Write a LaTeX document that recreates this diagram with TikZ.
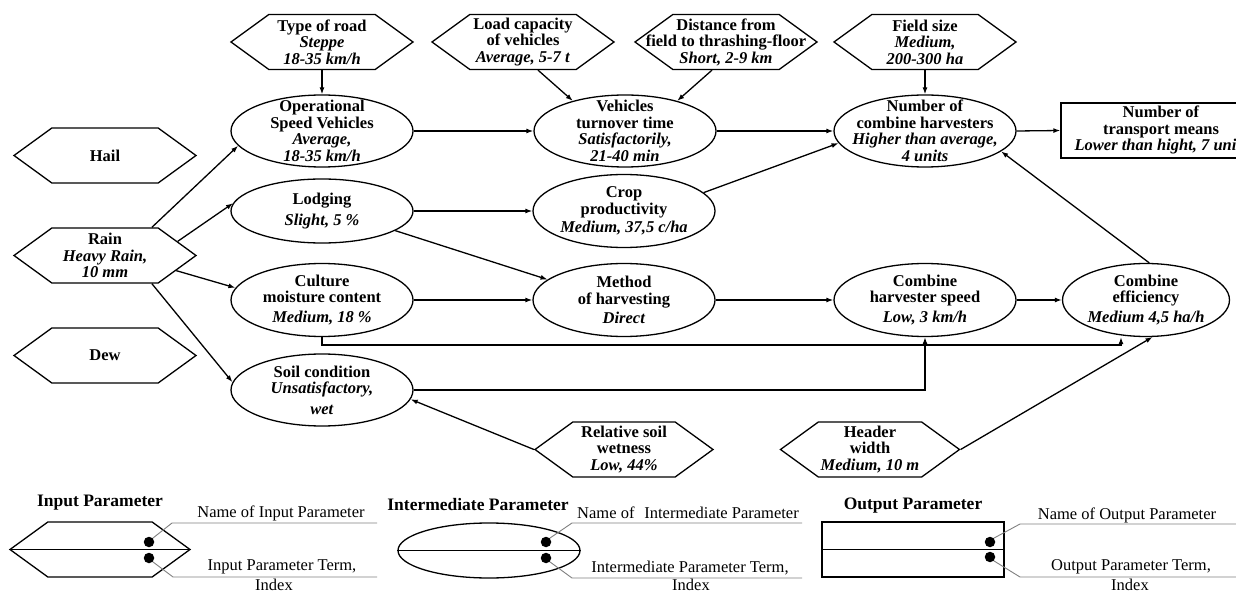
\documentclass[tikz,border=0pt]{standalone}
\usepackage{fontspec}
\setmainfont{Liberation Serif}
\usetikzlibrary{shapes.geometric,shapes.symbols,arrows.meta,calc}
\newcommand{\paramname}[1]{\textbf{#1}}
\newcommand{\paramval}[1]{\textbf{\textit{#1}}}
\tikzset{
  hexnode/.style={draw, line width=1.3pt, signal, signal to=east and west, signal pointer angle=72, minimum width=182pt, minimum height=55pt, inner sep=0pt},
  ellnode/.style={draw, line width=1.3pt, ellipse, minimum width=182pt, minimum height=72pt, inner sep=0pt},
  boxnode/.style={draw, line width=1.3pt, rectangle, minimum width=184pt, minimum height=55pt, inner sep=0pt},
  txt/.style={align=center, inner sep=0pt, font=\fontsize{16.5}{16.5}\selectfont},
  arr/.style={line width=1.3pt, -{Latex[length=7pt,width=5pt]}},
  lead/.style={line width=0.9pt, draw=black!50},
  dotnode/.style={circle, fill=black, minimum size=10.5pt, inner sep=0pt},
  lgtxt/.style={inner sep=0pt, font=\fontsize{16.5}{15}\selectfont},
  lgtitle/.style={inner sep=0pt, font=\fontsize{17.5}{15}\selectfont\bfseries},
  midline/.style={line width=1.3pt},
}
\begin{document}
\begin{tikzpicture}[x=1pt,y=-1pt]
\fill[white] (0,0) rectangle (1236,593);
\useasboundingbox (0,0) rectangle (1236,593);

% ---- input hexagons (top)
\node[hexnode] (road) at (322,42) {};
\node[txt] (roadT) at (road) {\paramname{Type of road}\\\paramval{Steppe}\\\paramval{18-35 km/h}};
\node[hexnode] (load) at (523,42) {};
\node[txt] (loadT) at (load) {\paramname{Load capacity}\\\paramname{of vehicles}\\\paramval{Average, 5-7 t}};
\node[hexnode] (dist) at (726,42) {};
\node[txt] (distT) at (dist) {\paramname{Distance from}\\\paramname{field to thrashing-floor}\\\paramval{Short, 2-9 km}};
\node[hexnode] (field) at (925,42) {};
\node[txt] (fieldT) at (field) {\paramname{Field size}\\\paramval{Medium,}\\\paramval{200-300 ha}};

% ---- input hexagons (left)
\node[hexnode] (hail) at (105,155.5) {};
\node[txt] (hailT) at (hail) {\paramname{Hail}};
\node[hexnode] (rain) at (105,255.5) {};
\node[txt] (rainT) at (rain) {\paramname{Rain}\\\paramval{Heavy Rain,}\\\paramval{10 mm}};
\node[hexnode] (dew) at (105,355.5) {};
\node[txt] (dewT) at (dew) {\paramname{Dew}};

% ---- input hexagons (bottom)
\node[hexnode, minimum width=178pt] (rsw) at (624,449.5) {};
\node[txt] (rswT) at (rsw) {\paramname{Relative soil}\\\paramname{wetness}\\\paramval{Low, 44\%}};
\node[hexnode, minimum width=179pt] (head) at (870,449.5) {};
\node[txt] (headT) at (head) {\paramname{Header}\\\paramname{width}\\\paramval{Medium, 10 m}};

% ---- intermediate ellipses
\node[ellnode] (ops) at (322,131) {};
\node[txt] (opsT) at (ops) {\paramname{Operational}\\\paramname{Speed Vehicles}\\\paramval{Average,}\\\paramval{18-35 km/h}};
\node[ellnode] (veh) at (625,131) {};
\node[txt] (vehT) at (veh) {\paramname{Vehicles}\\\paramname{turnover time}\\\paramval{Satisfactorily,}\\\paramval{21-40 min}};
\node[ellnode] (ncomb) at (925,131) {};
\node[txt] (ncombT) at (ncomb) {\paramname{Number of}\\\paramname{combine harvesters}\\\paramval{Higher than average,}\\\paramval{4 units}};

\node[ellnode, minimum height=64pt] (lodg) at (322,211) {};
\node[txt] (lodgT) at (lodg) {\paramname{Lodging}\\[5pt]\paramval{Slight, 5 \%}};
\node[ellnode, minimum height=73pt] (crop) at (624,211) {};
\node[txt] (cropT) at (crop) {\paramname{Crop}\\\paramname{productivity}\\[2pt]\paramval{Medium, 37,5 c/ha}};

\node[ellnode, minimum height=73pt] (cult) at (322,300) {};
\node[txt] (cultT) at (cult) {\paramname{Culture}\\\paramname{moisture content}\\[3pt]\paramval{Medium, 18 \%}};
\node[ellnode, minimum height=73pt] (meth) at (624,300) {};
\node[txt] (methT) at (meth) {\paramname{Method}\\\paramname{of harvesting}\\[3pt]\paramval{Direct}};
\node[ellnode, minimum height=73pt] (cspd) at (925,300) {};
\node[txt] (cspdT) at (cspd) {\paramname{Combine}\\\paramname{harvester speed}\\[3pt]\paramval{Low, 3 km/h}};
\node[ellnode, minimum height=73pt, minimum width=167pt] (ceff) at (1146,300) {};
\node[txt] (ceffT) at (ceff) {\paramname{Combine}\\\paramname{efficiency}\\[3pt]\paramval{Medium 4,5 ha/h}};

\node[ellnode, minimum height=72pt] (soil) at (322,390) {};
\node[txt] (soilT) at (soil) {\paramname{Soil condition}\\\paramval{Unsatisfactory,}\\[4pt]\paramval{wet}};

% ---- output box
\node[boxnode] (trans) at (1153,130.5) {};
\node[txt] (transT) at (1161,130) {\paramname{Number of}\\\paramname{transport means}\\\paramval{Lower than hight, 7 units}};

% ---- connectors
\draw[arr] (road.south) -- (ops.north);
\draw[arr] ($(load.south)+(15,0)$) -- (veh.150);
\draw[arr] ($(dist.south)+(-14,0)$) -- (veh.30);
\draw[arr] (field.south) -- (ncomb.north);
\draw[arr] (ops.east) -- (veh.west);
\draw[arr] (veh.east) -- (ncomb.west);
\draw[arr] (ncomb.east) -- (trans.west);
\draw[arr] (crop.13) -- (ncomb.188);
\draw[arr] (ceff.85) -- (ncomb.345);
\draw[arr] (lodg.east) -- (crop.west);
\draw[arr] (lodg.345) -- (meth.165);
\draw[arr] (cult.east) -- (meth.west);
\draw[arr] (meth.east) -- (cspd.west);
\draw[arr] (cspd.east) -- (ceff.west);
\coordinate (jc) at (1121,345);
\draw[arr] (cult.south) |- (jc) -- (ceff.south -| jc);
\draw[arr] (soil.east) -| (cspd.south);
\draw[arr] (rain.31) -- (ops.190);
\draw[arr] (rain.11) -- (lodg.175);
\draw[arr] (rain.348) -- (cult.172);
\draw[arr] (rain.329) -- (soil.175);
\draw[arr] (rsw.west) -- (soil.354);
\draw[arr] (head.east) -- (ceff.280);

% ---- legend: input
\node[lgtitle] (lgInT) at (100,503) {Input Parameter};
\node[hexnode, minimum width=180pt] (lgIn) at (100,549.5) {};
\draw[midline] (lgIn.west) -- (lgIn.east);
\node[dotnode] (di1) at (149,542) {};
\node[dotnode] (di2) at (149,558) {};
\coordinate (li1a) at (172,523); \coordinate (li1b) at (377,523);
\coordinate (li2a) at (173,577); \coordinate (li2b) at (377,577);
\draw[lead] (di1.45) -- (li1a) -- (li1b);
\draw[lead] (di2.315) -- (li2a) -- (li2b);
\node[lgtxt] (lgInN) at (281,513) {Name of Input Parameter};
\node[lgtxt] (lgInV) at (282,567) {Input Parameter Term,};
\node[lgtxt] (lgInI) at (274,585) {Index};

% ---- legend: intermediate
\node[lgtitle] (lgMidT) at (478,505) {Intermediate Parameter};
\node[ellnode, minimum height=55pt] (lgMid) at (489,550.5) {};
\draw[midline] (lgMid.west) -- (lgMid.east);
\node[dotnode] (dm1) at (546,542) {};
\node[dotnode] (dm2) at (546,558) {};
\coordinate (lm1a) at (572,523); \coordinate (lm1b) at (802,523);
\coordinate (lm2a) at (572,578); \coordinate (lm2b) at (802,578);
\draw[lead] (dm1.45) -- (lm1a) -- (lm1b);
\draw[lead] (dm2.315) -- (lm2a) -- (lm2b);
\node[lgtxt] (lgMidN) at (688,513) {Name of\hspace{0.6em}Intermediate Parameter};
\node[lgtxt] (lgMidV) at (690,568) {Intermediate Parameter Term,};
\node[lgtxt] (lgMidI) at (691,585) {Index};

% ---- legend: output
\node[lgtitle] (lgOutT) at (913,506) {Output Parameter};
\node[boxnode, minimum width=182pt] (lgOut) at (913,549.5) {};
\draw[midline] (lgOut.west) -- (lgOut.east);
\node[dotnode] (do1) at (990,542) {};
\node[dotnode] (do2) at (990,557) {};
\coordinate (lo1a) at (1020,524); \coordinate (lo1b) at (1236,524);
\coordinate (lo2a) at (1020,577); \coordinate (lo2b) at (1236,577);
\draw[lead] (do1.45) -- (lo1a) -- (lo1b);
\draw[lead] (do2.315) -- (lo2a) -- (lo2b);
\node[lgtxt] (lgOutN) at (1127,515) {Name of Output Parameter};
\node[lgtxt] (lgOutV) at (1131,567) {Output Parameter Term,};
\node[lgtxt] (lgOutI) at (1130,585) {Index};
\end{tikzpicture}
\end{document}
